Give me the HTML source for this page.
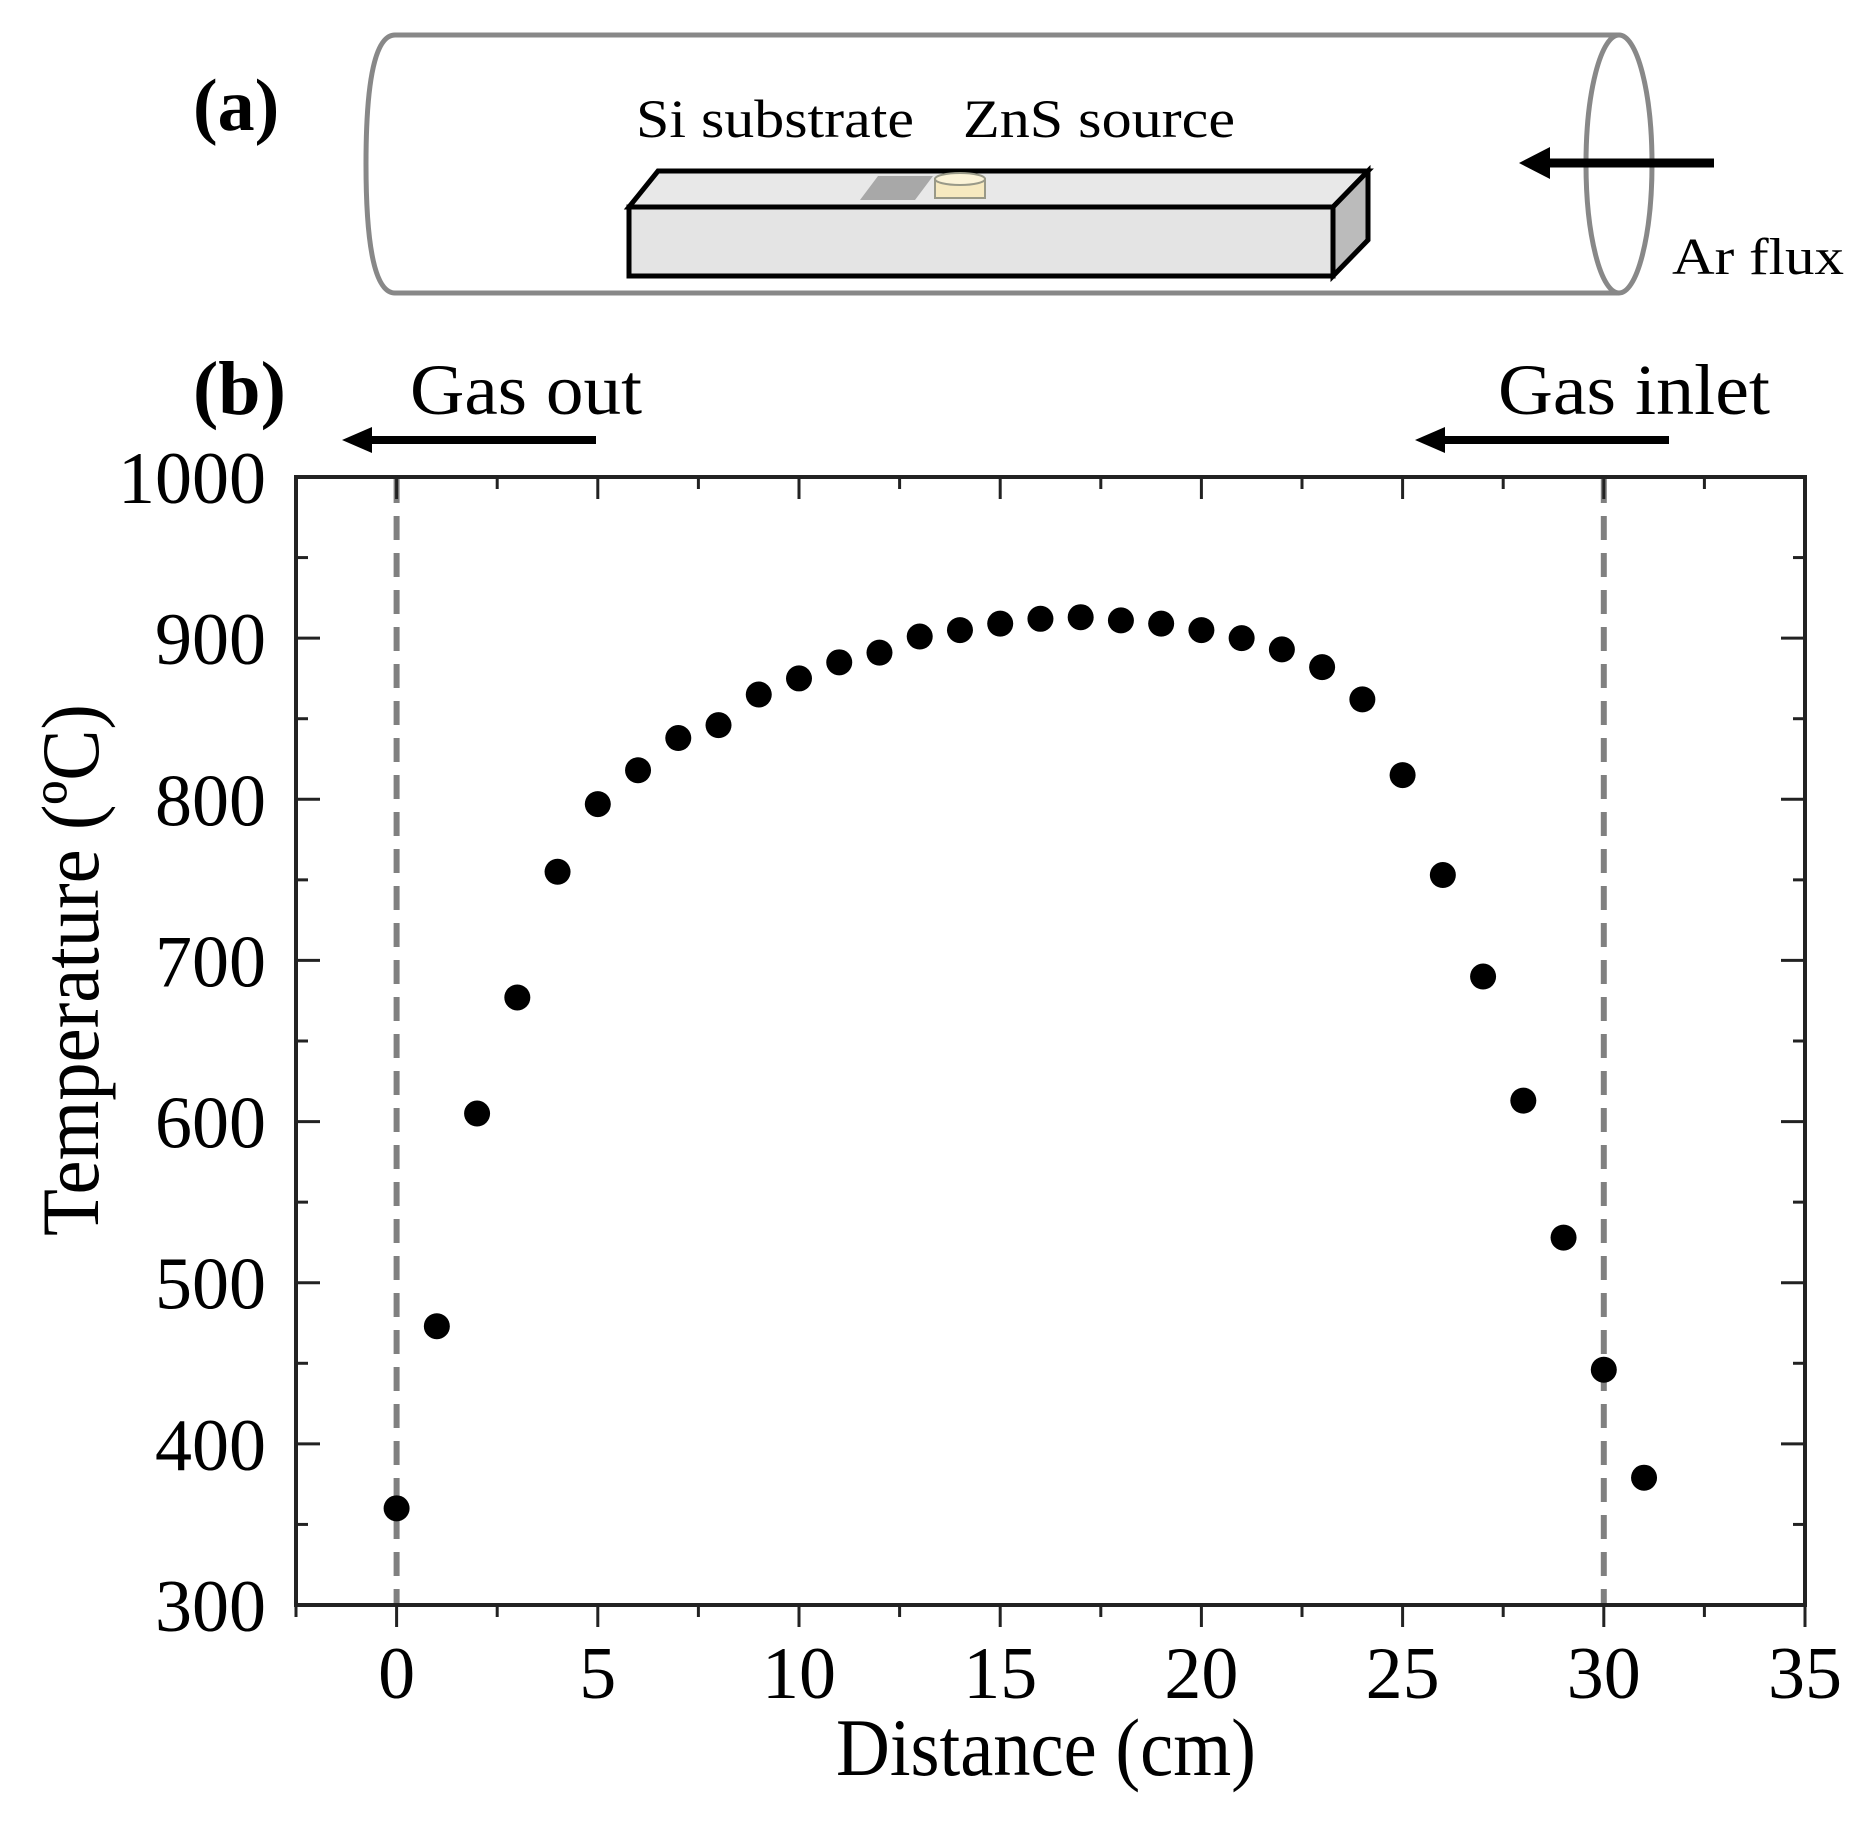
<!DOCTYPE html>
<html><head><meta charset="utf-8"><style>
html,body{margin:0;padding:0;background:#fff;}
svg{display:block;font-family:"Liberation Serif",serif;}
</style></head><body>
<svg id="chart" width="1853" height="1826" viewBox="0 0 1853 1826">
  <g>
    <text x="193" y="130" font-size="74" font-weight="bold">(a)</text>
    <path d="M1619,35 L395,35 Q366,35 366,164 Q366,293 395,293 L1619,293" fill="none" stroke="#888" stroke-width="5"/>
    <ellipse cx="1619" cy="164" rx="33" ry="129" fill="none" stroke="#888" stroke-width="5"/>
    <polygon points="629,207 658,171 1368,171 1333,207" fill="#e8e8e8" stroke="#000" stroke-width="5"/>
    <rect x="629" y="207" width="704" height="69" fill="#e4e4e4" stroke="#000" stroke-width="5"/>
    <polygon points="1333,207 1368,171 1368,240 1333,276" fill="#bbb" stroke="#000" stroke-width="5"/>
    <polygon points="860,200 878,176 933,176 915,200" fill="#a8a8a8"/>
    <rect x="935" y="179" width="50" height="19" fill="#f6e9c0" stroke="#998" stroke-width="2"/>
    <ellipse cx="960" cy="179" rx="25" ry="6" fill="#fbf3d8" stroke="#998" stroke-width="2"/>
    <text x="636" y="137" font-size="54" textLength="278" lengthAdjust="spacingAndGlyphs">Si substrate</text>
    <text x="963" y="137" font-size="54" textLength="272" lengthAdjust="spacingAndGlyphs">ZnS source</text>
    <line x1="1714" y1="163" x2="1545" y2="163" stroke="#000" stroke-width="9"/>
    <polygon points="1519,163 1550,147 1550,179" fill="#000"/>
    <text x="1672" y="274" font-size="52" textLength="172" lengthAdjust="spacingAndGlyphs">Ar flux</text>
  </g>
  <g>
    <text x="193" y="414" font-size="76" font-weight="bold">(b)</text>
    <text x="410" y="414" font-size="72" textLength="232" lengthAdjust="spacingAndGlyphs">Gas out</text>
    <line x1="596" y1="440" x2="368" y2="440" stroke="#000" stroke-width="8"/>
    <polygon points="342,440 372,427 372,453" fill="#000"/>
    <text x="1498" y="414" font-size="72" textLength="272" lengthAdjust="spacingAndGlyphs">Gas inlet</text>
    <line x1="1669" y1="440" x2="1441" y2="440" stroke="#000" stroke-width="8"/>
    <polygon points="1415,440 1445,427 1445,453" fill="#000"/>
  </g>
  <g id="plot"></g>
  <text x="1046" y="1775" font-size="82" text-anchor="middle" textLength="420" lengthAdjust="spacingAndGlyphs">Distance (cm)</text>
  <text transform="translate(98,970) rotate(-90)" font-size="82" text-anchor="middle" textLength="532" lengthAdjust="spacingAndGlyphs">Temperature (ºC)</text>
</svg>
<script>
const distances = [0,1,2,3,4,5,6,7,8,9,10,11,12,13,14,15,16,17,18,19,20,21,22,23,24,25,26,27,28,29,30,31];
const temperatures = [360,473,605,677,755,797,818,838,846,865,875,885,891,901,905,909,912,913,911,909,905,900,893,882,862,815,753,690,613,528,446,379];
const xTicks = [0,5,10,15,20,25,30,35];
const yTicks = [300,400,500,600,700,800,900,1000];
const dashedMarkers = [0,30];

const NS = "http://www.w3.org/2000/svg";
const L = 296, R = 1805, T = 477, B = 1605;
const xMin = -2.5, xMax = 35, yMin = 300, yMax = 1000;
const xs = v => L + (v - xMin) / (xMax - xMin) * (R - L);
const ys = v => B - (v - yMin) / (yMax - yMin) * (B - T);
const g = document.getElementById('plot');
function mk(tag, attrs) {
  const e = document.createElementNS(NS, tag);
  for (const k in attrs) e.setAttribute(k, attrs[k]);
  g.appendChild(e);
  return e;
}
dashedMarkers.forEach(v => {
  const e = mk('line', {x1: xs(v), x2: xs(v), y1: T + 2, y2: B, stroke: '#808080', 'stroke-width': 6, 'stroke-dasharray': '24,13'});
  
  
});
const fr = mk('rect', {x: L, y: T, width: R - L, height: B - T, fill: 'none', stroke: '#222', 'stroke-width': 4});


for (let v = xMin; v <= xMax + 0.01; v += 2.5) {
  const major = Math.abs(v % 5) < 0.01;
  const len = major ? 22 : 12;
  mk('line', {x1: xs(v), x2: xs(v), y1: B, y2: B + len, stroke: '#222', 'stroke-width': 3});
  mk('line', {x1: xs(v), x2: xs(v), y1: T, y2: T + len, stroke: '#222', 'stroke-width': 3});
}
for (let v = yMin; v <= yMax; v += 50) {
  const major = v % 100 === 0;
  const len = major ? 24 : 12;
  mk('line', {x1: L, x2: L + len, y1: ys(v), y2: ys(v), stroke: '#222', 'stroke-width': 3});
  mk('line', {x1: R, x2: R - len, y1: ys(v), y2: ys(v), stroke: '#222', 'stroke-width': 3});
}
xTicks.forEach(v => {
  const t = mk('text', {x: xs(v), y: 1698, 'font-size': 74, 'text-anchor': 'middle'});
  t.textContent = v;
  
  
});
yTicks.forEach(v => {
  const t = mk('text', {x: 266, y: ys(v) + 26, 'font-size': 74, 'text-anchor': 'end'});
  t.textContent = v;
  
  
});
distances.forEach((d, i) => {
  const c = mk('circle', {cx: xs(d), cy: ys(temperatures[i]), r: 13, fill: '#000'});
  
  
});
</script>
</body></html>
